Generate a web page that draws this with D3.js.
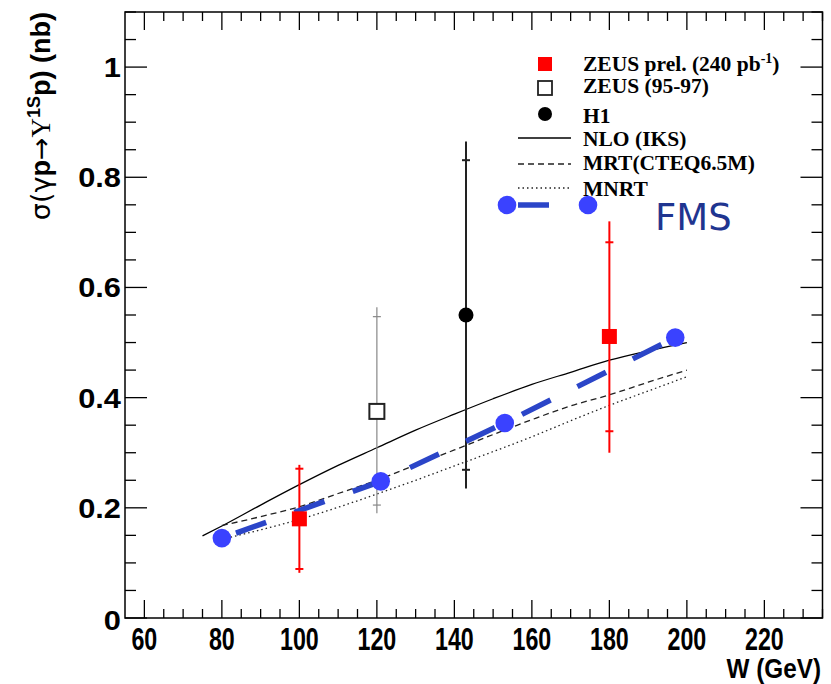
<!DOCTYPE html>
<html><head><meta charset="utf-8">
<script src="https://cdn.jsdelivr.net/npm/d3@7/dist/d3.min.js"></script>
<style>body{margin:0;background:#fff}</style>
</head><body><svg id="c" width="831" height="684"></svg>
<script>
// ---- data ----
const xTickValues = [60,80,100,120,140,160,180,200,220];
const yTickValues = [0,0.2,0.4,0.6,0.8,1];
const yTickLabels = ["0","0.2","0.4","0.6","0.8","1"];

const zeusPrelW = [100,180];
const zeusPrelV = [0.18,0.511];
const zeusPrelStatLo = [0.089,0.339];
const zeusPrelStatHi = [0.271,0.682];
const zeusPrelTotLo = [0.082,0.300];
const zeusPrelTotHi = [0.278,0.720];

const zeusOldW = [120];
const zeusOldV = [0.375];
const zeusOldStatLo = [0.205];
const zeusOldStatHi = [0.547];
const zeusOldTotLo = [0.19];
const zeusOldTotHi = [0.564];

const h1W = [143];
const h1V = [0.55];
const h1StatLo = [0.269];
const h1StatHi = [0.831];
const h1TotLo = [0.235];
const h1TotHi = [0.865];

const nloW = [75,80,90,100,110,120,130,140,150,160,170,180,190,200];
const nloV = [0.149,0.167,0.205,0.242,0.277,0.309,0.341,0.370,0.398,0.424,0.446,0.468,0.485,0.500];

const mrtW = [80,90,100,110,120,130,140,150,160,170,180,190,200];
const mrtV = [0.168,0.184,0.202,0.226,0.250,0.278,0.305,0.333,0.360,0.385,0.405,0.428,0.450];

const mnrtW = [80,90,100,110,120,130,140,150,160,170,180,190,200];
const mnrtV = [0.143,0.160,0.179,0.201,0.225,0.250,0.276,0.302,0.329,0.358,0.386,0.412,0.438];

const fmsW = [80,121,153,197];
const fmsV = [0.145,0.248,0.354,0.509];

const legendLabels = ["ZEUS prel. (240 pb","ZEUS (95-97)","H1","NLO (IKS)","MRT(CTEQ6.5M)","MNRT"];

// ---- layout ----
const L=125, R=822.5, T=12, B=618;
const svg = d3.select("#c");
const x = d3.scaleLinear().domain([55,235]).range([L,R]);
const y = d3.scaleLinear().domain([0,1.1]).range([B,T]);

// frame
svg.append("rect").attr("x",L).attr("y",T).attr("width",R-L).attr("height",B-T)
  .attr("fill","none").attr("stroke","#000").attr("stroke-width",1.5);

// ticks
const g = svg.append("g").attr("stroke","#000").attr("stroke-width",1.3);
const xMinor = d3.range(60,236,5);
xMinor.forEach(v=>{
  const major = v%20===0;
  const len = major?18:9;
  g.append("line").attr("x1",x(v)).attr("x2",x(v)).attr("y1",B).attr("y2",B-len);
  g.append("line").attr("x1",x(v)).attr("x2",x(v)).attr("y1",T).attr("y2",T+len);
});
const yMinor = d3.range(0,1.1001,0.05);
yMinor.forEach(v=>{
  const major = Math.abs(v/0.2-Math.round(v/0.2))<1e-6;
  const len = major?22:11;
  g.append("line").attr("y1",y(v)).attr("y2",y(v)).attr("x1",L).attr("x2",L+len);
  g.append("line").attr("y1",y(v)).attr("y2",y(v)).attr("x1",R).attr("x2",R-len);
});

// tick labels
const xl = svg.append("g").attr("font-family","Liberation Sans, Arial, sans-serif").attr("font-weight","bold").attr("font-size",31);
xTickValues.forEach(v=>{
  xl.append("text").attr("transform",`translate(${x(v)},650) scale(0.75,1)`).attr("text-anchor","middle").text(v);
});
const yl = svg.append("g").attr("font-family","Liberation Sans, Arial, sans-serif").attr("font-weight","bold").attr("font-size",28);
yTickValues.forEach((v,i)=>{
  yl.append("text").attr("transform",`translate(121,${y(v)+(v===0?12:10)}) scale(1.1,1)`).attr("text-anchor","end").text(yTickLabels[i]);
});

// axis titles
svg.append("text").attr("transform","translate(821,678) scale(0.9,1)").attr("text-anchor","end")
  .attr("font-family","Liberation Sans, Arial, sans-serif").attr("font-weight","bold").attr("font-size",27).text("W (GeV)");

const yt = svg.append("text").attr("transform","translate(50,12) rotate(-90)").attr("text-anchor","end")
  .attr("font-family","Liberation Sans, Arial, sans-serif").attr("font-size",27).attr("font-weight","bold");
yt.append("tspan").attr("font-weight","normal").attr("font-family","DejaVu Sans, sans-serif").text("σ(γ");
yt.append("tspan").text("p");
yt.append("tspan").attr("font-weight","normal").attr("font-family","DejaVu Sans, sans-serif").text("→");
yt.append("tspan").attr("font-weight","normal").attr("font-family","Liberation Serif, serif").text("Υ");
yt.append("tspan").attr("dy",-10).attr("font-size",18).text("1S");
yt.append("tspan").attr("dy",10).text("p) (nb)");

// curves
const line = d3.line().x(d=>x(d[0])).y(d=>y(d[1])).curve(d3.curveMonotoneX);
svg.append("path").attr("d",line(nloW.map((w,i)=>[w,nloV[i]]))).attr("fill","none").attr("stroke","#000").attr("stroke-width",1.3);
svg.append("path").attr("d",line(mrtW.map((w,i)=>[w,mrtV[i]]))).attr("fill","none").attr("stroke","#222").attr("stroke-width",1.3).attr("stroke-dasharray","6 4");
svg.append("path").attr("d",line(mnrtW.map((w,i)=>[w,mnrtV[i]]))).attr("fill","none").attr("stroke","#222").attr("stroke-width",1.3).attr("stroke-dasharray","1.5 3");

// error bars
function errBars(W,V,sLo,sHi,tLo,tHi,color,width){
  W.forEach((w,i)=>{
    svg.append("line").attr("x1",x(w)).attr("x2",x(w)).attr("y1",y(tLo[i])).attr("y2",y(tHi[i])).attr("stroke",color).attr("stroke-width",width);
    [sLo[i],sHi[i]].forEach(s=>{
      svg.append("line").attr("x1",x(w)-4).attr("x2",x(w)+4).attr("y1",y(s)).attr("y2",y(s)).attr("stroke",color).attr("stroke-width",width);
    });
  });
}
errBars(zeusOldW,zeusOldV,zeusOldStatLo,zeusOldStatHi,zeusOldTotLo,zeusOldTotHi,"#888",1.2);
errBars(h1W,h1V,h1StatLo,h1StatHi,h1TotLo,h1TotHi,"#222",2);
errBars(zeusPrelW,zeusPrelV,zeusPrelStatLo,zeusPrelStatHi,zeusPrelTotLo,zeusPrelTotHi,"#ff0000",2);

// FMS dashed line
const fmsLine = d3.line().x(d=>x(d[0])).y(d=>y(d[1]));
svg.append("path").attr("d",fmsLine(fmsW.map((w,i)=>[w,fmsV[i]]))).attr("fill","none")
  .attr("stroke","#2b45c8").attr("stroke-width",5.5).attr("stroke-dasharray","32 30").attr("stroke-dashoffset",47);

// markers
zeusOldW.forEach((w,i)=>svg.append("rect").attr("x",x(w)-7.5).attr("y",y(zeusOldV[i])-7.5).attr("width",15).attr("height",15).attr("fill","#fff").attr("stroke","#222").attr("stroke-width",2));
h1W.forEach((w,i)=>svg.append("circle").attr("cx",x(w)).attr("cy",y(h1V[i])).attr("r",7.5).attr("fill","#000"));
zeusPrelW.forEach((w,i)=>svg.append("rect").attr("x",x(w)-7.5).attr("y",y(zeusPrelV[i])-7.5).attr("width",15).attr("height",15).attr("fill","#ff0000"));
fmsW.forEach((w,i)=>svg.append("circle").attr("cx",x(w)).attr("cy",y(fmsV[i])).attr("r",9.3).attr("fill","#3a42ff"));

// legend
const lg = svg.append("g").attr("font-family","Liberation Serif, Times New Roman, serif").attr("font-weight","bold").attr("font-size",21.5);
const ly = [71,93,123,146,170,196];
const my = [64,88,114,138,164,188];
lg.append("rect").attr("x",538).attr("y",my[0]-7).attr("width",14).attr("height",14).attr("fill","#ff0000");
lg.append("rect").attr("x",538).attr("y",my[1]-7).attr("width",14).attr("height",14).attr("fill","#fff").attr("stroke","#222").attr("stroke-width",1.8);
lg.append("circle").attr("cx",545).attr("cy",my[2]).attr("r",7).attr("fill","#000");
lg.append("line").attr("x1",518).attr("x2",571).attr("y1",my[3]).attr("y2",my[3]).attr("stroke","#000").attr("stroke-width",1.3);
lg.append("line").attr("x1",518).attr("x2",571).attr("y1",my[4]).attr("y2",my[4]).attr("stroke","#222").attr("stroke-width",1.3).attr("stroke-dasharray","6 4");
lg.append("line").attr("x1",518).attr("x2",571).attr("y1",my[5]).attr("y2",my[5]).attr("stroke","#222").attr("stroke-width",1.3).attr("stroke-dasharray","1.5 3");
legendLabels.forEach((t,i)=>{
  const tx = lg.append("text").attr("x",583).attr("y",ly[i]).text(t);
  if(i===0){
    tx.append("tspan").attr("dy",-8).attr("font-size",14).text("-1");
    tx.append("tspan").attr("dy",8).text(")");
  }
});
// FMS legend
svg.append("line").attr("x1",518).attr("x2",549).attr("y1",205).attr("y2",205).attr("stroke","#2b45c8").attr("stroke-width",5.5);
svg.append("circle").attr("cx",507).attr("cy",205).attr("r",9.3).attr("fill","#3a42ff");
svg.append("circle").attr("cx",588).attr("cy",205).attr("r",9.3).attr("fill","#3a42ff");
svg.append("text").attr("x",655).attr("y",230).attr("font-family","DejaVu Sans, sans-serif").attr("font-size",37).attr("fill","#1f3590").text("FMS");
</script></body></html>
